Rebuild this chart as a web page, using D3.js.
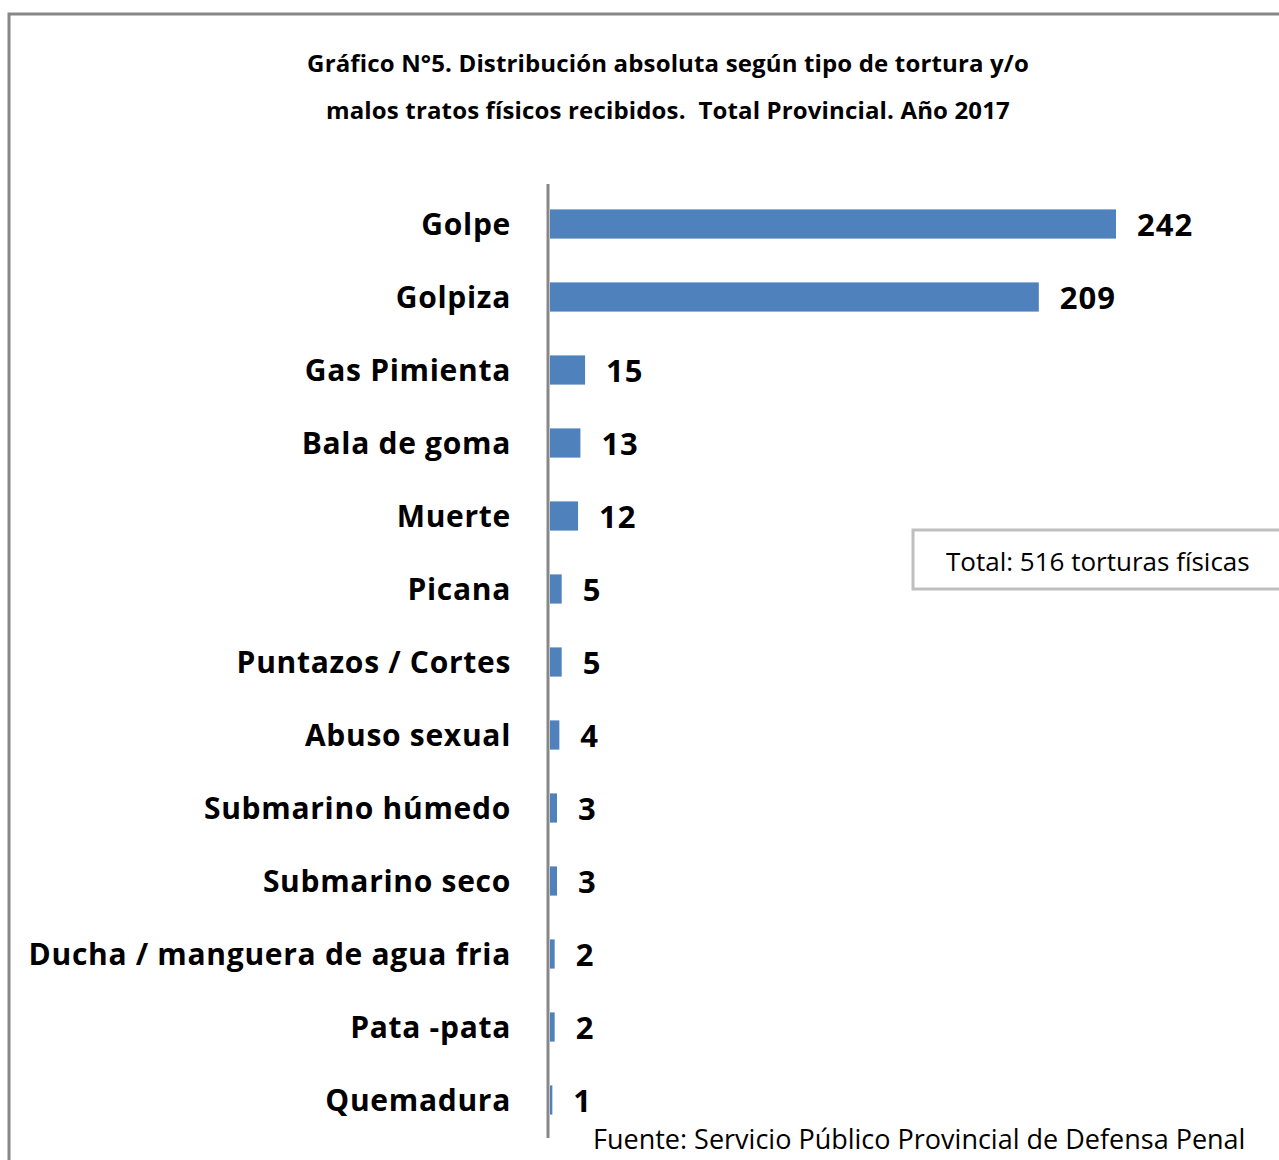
<!DOCTYPE html>
<html>
<head>
<meta charset="utf-8">
<script src="https://cdn.jsdelivr.net/npm/d3@7"></script>
<style>
  body { margin: 0; background: #fff; }
  svg { display: block; font-family: "Open Sans", sans-serif; }
</style>
</head>
<body>
<div id="chart"></div>
<script>
// Data
const categories = [
  "Golpe", "Golpiza", "Gas Pimienta", "Bala de goma", "Muerte", "Picana",
  "Puntazos / Cortes", "Abuso sexual", "Submarino húmedo", "Submarino seco",
  "Ducha / manguera de agua fria", "Pata -pata", "Quemadura"
];
const values = [242, 209, 15, 13, 12, 5, 5, 4, 3, 3, 2, 2, 1];
const titleLines = [
  "Gráfico N°5. Distribución absoluta según tipo de tortura y/o",
  "malos tratos físicos recibidos.  Total Provincial. Año 2017"
];
const totalNote = "Total: 516 torturas físicas";
const sourceNote = "Fuente: Servicio Público Provincial de Defensa Penal";

const W = 1279, H = 1160;
const svg = d3.select("#chart").append("svg")
  .attr("width", W)
  .attr("height", H);

// outer frame (right/bottom edges fall outside the picture)
svg.append("rect")
  .attr("x", 9).attr("y", 14)
  .attr("width", W + 20).attr("height", H + 20)
  .attr("fill", "none")
  .attr("stroke", "#878787")
  .attr("stroke-width", 3);

// title
svg.selectAll(".title")
  .data(titleLines)
  .enter()
  .append("text")
  .attr("x", 668)
  .attr("y", (d, i) => 72 + i * 47)
  .attr("text-anchor", "middle")
  .style("font-size", "24px")
  .style("letter-spacing", "0.15px")
  .style("font-weight", "bold")
  .style("white-space", "pre")
  .text((d) => d);

// scales
const x = d3.scaleLinear().domain([0, 242]).range([550, 1116]);
const y = d3.scaleBand().domain(categories).range([187.5, 1136.5]).paddingInner(0.6).paddingOuter(0.3);

// bars
svg.selectAll(".bar")
  .data(values)
  .enter()
  .append("rect")
  .attr("x", x(0))
  .attr("y", (d, i) => y(categories[i]))
  .attr("width", (d) => x(d) - x(0))
  .attr("height", y.bandwidth())
  .attr("fill", "#4f81bd");

// axis (vertical line, no ticks)
const axis = svg.append("g")
  .attr("transform", "translate(548,0)")
  .call(d3.axisLeft(y).tickSize(0).tickPadding(37));
axis.select(".domain")
  .attr("d", "M0,184V1138")
  .attr("stroke", "#878787")
  .attr("stroke-width", 3);
axis.selectAll("text")
  .attr("fill", "#000")
  .attr("dy", "0.36em")
  .style("font-family", "'Open Sans', sans-serif")
  .style("font-size", "30px")
  .style("letter-spacing", "0.7px")
  .style("font-weight", "bold");

// value labels
svg.selectAll(".val")
  .data(values)
  .enter()
  .append("text")
  .attr("x", (d) => x(d) + 21)
  .attr("y", (d, i) => y(categories[i]) + y.bandwidth() / 2)
  .attr("dy", "0.4em")
  .style("font-size", "31px")
  .style("letter-spacing", "1px")
  .style("font-weight", "bold")
  .text((d) => d);

// total box
svg.append("rect")
  .attr("x", 913).attr("y", 530)
  .attr("width", 400).attr("height", 59)
  .attr("fill", "#fff")
  .attr("stroke", "#bfbfbf")
  .attr("stroke-width", 3);
svg.append("text")
  .attr("x", 946).attr("y", 571)
  .style("font-size", "26px")
  .text(totalNote);

// source
svg.append("text")
  .attr("x", 593).attr("y", 1149)
  .style("font-size", "27px")
  .text(sourceNote);
</script>
</body>
</html>
